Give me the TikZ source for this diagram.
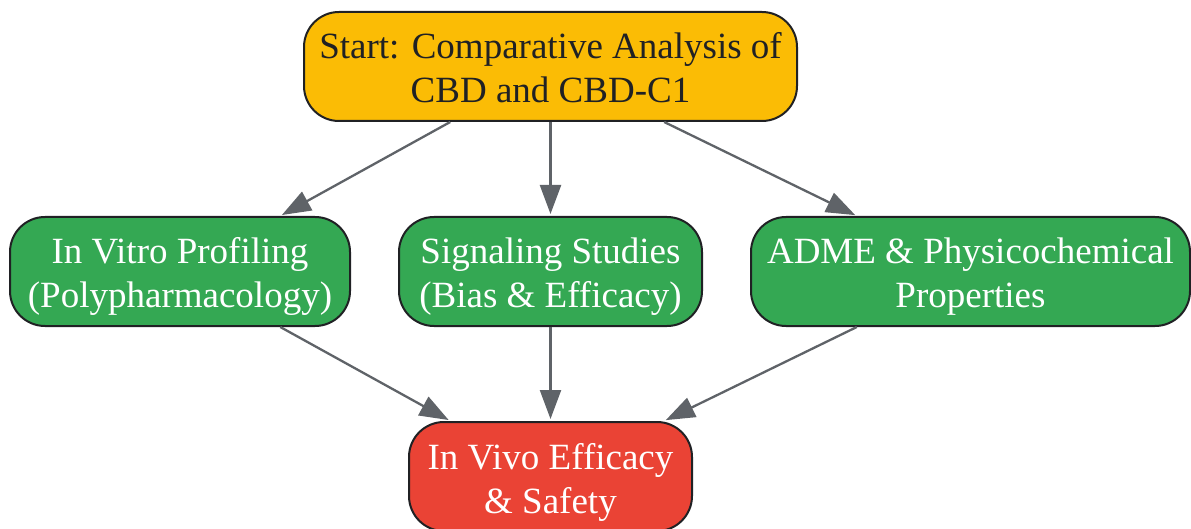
\documentclass[tikz,border=0pt]{standalone}
\usepackage{fontspec}
\setmainfont{Liberation Serif}
\usetikzlibrary{arrows.meta}
\definecolor{startyellow}{HTML}{FBBC05}
\definecolor{stepgreen}{HTML}{34A853}
\definecolor{endred}{HTML}{EA4335}
\definecolor{inkdark}{HTML}{202124}
\definecolor{arrowgray}{HTML}{5F6368}
\newcommand{\topfix}{\rule{0pt}{37pt}}
\newcommand{\botfix}{\rule[-8pt]{0pt}{0pt}}
\tikzset{
  box/.style={draw=inkdark, line width=2pt, rounded corners=35pt, align=center,
    minimum height=109pt, inner xsep=15pt, inner ysep=0pt,
    font=\fontsize{37}{44}\selectfont},
  startbox/.style={box, fill=startyellow, text=inkdark},
  greenbox/.style={box, fill=stepgreen, text=white},
  redbox/.style={box, fill=endred, text=white},
  arr/.style={draw=arrowgray, line width=2.3pt, shorten >=2pt,
    -{Triangle[length=29pt,width=21pt]}}
}
\begin{document}
\begin{tikzpicture}[x=1pt,y=-1pt]
			%%Location
			\useasboundingbox (0,0) rectangle (1191,529);
			
			%%Nodes
			\node[startbox, minimum width=493pt] (start) at (550.5,66.5) {\topfix Start: Comparative Analysis of\\CBD and CBD-C1\botfix};
			\node[greenbox, minimum width=340pt] (vitro) at (180,271.5) {\topfix In Vitro Profiling\\(Polypharmacology)\botfix};
			\node[greenbox, minimum width=303pt] (signal) at (550.5,271.5) {\topfix Signaling Studies\\(Bias \& Efficacy)\botfix};
			\node[greenbox, minimum width=439pt] (adme) at (970.5,271.5) {\topfix ADME \& Physicochemical\\Properties\botfix};
			\node[redbox, minimum width=283pt] (vivo) at (550.5,476.5) {\topfix In Vivo Efficacy\\\& Safety\botfix};
			
			%%Arrows
			\draw[arr] (start) -- (vitro);
			\draw[arr] (start) -- (signal);
			\draw[arr] (start) -- (adme);
			\draw[arr] (vitro) -- (vivo);
			\draw[arr] (signal) -- (vivo);
			\draw[arr] (adme) -- (vivo);
			
\end{tikzpicture}
\end{document}
